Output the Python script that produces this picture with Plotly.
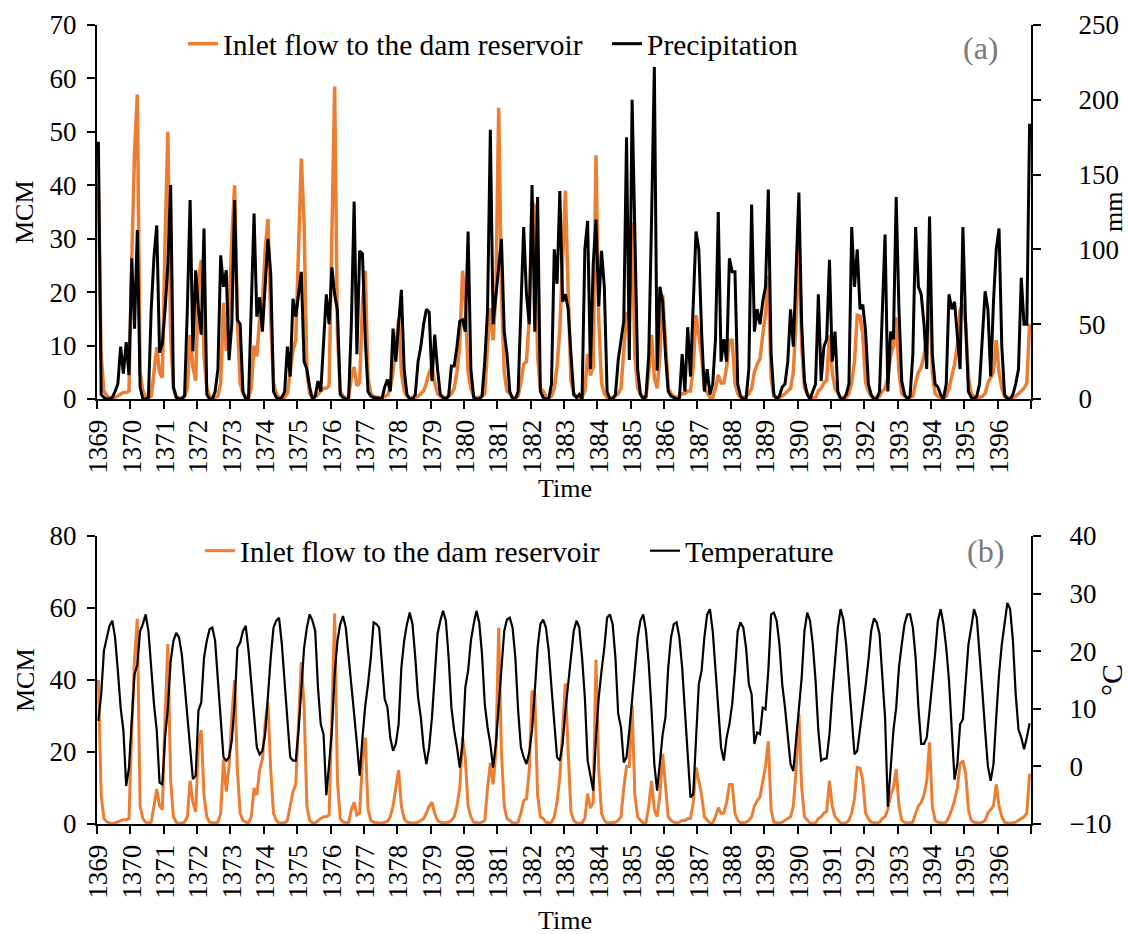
import plotly.graph_objects as go

# ---------------- data (monthly, Persian calendar years 1369-1396) ----------------
year_labels = [str(y) for y in range(1369, 1397)]

# Inlet flow to the dam reservoir (MCM), 12 values per year
inflow = [
    40, 8, 1.5, 0.6, 0.3, 0.1, 0.3, 0.6, 1.0, 1.2, 1.2, 1.5,        # 1369
    26, 46, 57, 5, 1.5, 0.5, 0.3, 0.5, 5, 9.7, 5, 4,                # 1370
    30, 50, 12, 2, 0.5, 0.2, 0.3, 0.5, 2, 12, 6, 3.4,               # 1371
    22, 26, 8, 2, 0.5, 0.3, 0.3, 0.5, 3, 18, 9, 16,                 # 1372
    30, 40, 15, 3, 1, 0.5, 0.3, 2, 10, 8, 15, 18,                   # 1373
    28, 33.7, 15, 3, 1, 0.3, 0.2, 0.3, 1, 5, 9, 11,                 # 1374
    30, 45, 33, 5, 1, 0.3, 0.3, 1, 1.5, 2, 2, 2.5,                  # 1375
    30, 58.5, 12, 1.5, 0.5, 0.3, 0.3, 4, 6, 2.5, 3, 18,             # 1376
    24, 4, 1, 0.5, 0.3, 0.3, 0.3, 0.5, 0.7, 2, 5, 10,               # 1377
    15, 5, 1.5, 0.5, 0.3, 0.3, 0.3, 0.5, 1, 1.5, 3, 5,              # 1378
    6, 3, 1, 0.5, 0.3, 0.3, 0.5, 1, 2, 5, 10, 24,                   # 1379
    18, 5, 2, 0.5, 0.3, 0.3, 0.5, 1, 10, 17, 11, 20,                # 1380
    54.5, 20, 5, 1.5, 1, 0.3, 0.3, 0.5, 3, 6.5, 7, 15,              # 1381
    37, 36, 8, 2, 1.5, 0.5, 0.3, 0.5, 2, 6, 13, 25,                 # 1382
    39, 20, 3.4, 1, 0.3, 0.2, 0.3, 1.5, 8.4, 4.4, 6, 45.6,          # 1383
    15, 3, 1, 0.3, 0.3, 0.3, 0.5, 1, 2, 10, 16, 16,                 # 1384
    33, 8, 2, 1, 0.3, 0.3, 5, 12, 4, 2, 8, 19.5,                    # 1385
    10, 2, 1, 0.5, 0.3, 0.5, 1, 1, 1.5, 1.5, 6, 15.7,               # 1386
    12, 8, 2, 1, 0.3, 0.3, 2, 4.5, 3, 3, 6, 11,                     # 1387
    11, 3, 1, 0.3, 0.3, 0.5, 1, 2, 5, 6.5, 7.5, 12,                 # 1388
    16, 23, 4, 0.5, 0.3, 0.3, 0.5, 1, 1.5, 2, 5, 15,                # 1389
    30.6, 10, 2, 1.2, 0.3, 0.2, 0.3, 1.5, 2, 3, 3.5, 12,            # 1390
    5, 2, 1, 0.3, 0.2, 0.3, 1, 3, 7, 15.7, 15.5, 12,                # 1391
    3, 1.5, 0.5, 0.3, 0.3, 0.5, 1.5, 2, 4, 8, 10, 15.3,             # 1392
    5, 1, 0.5, 0.3, 0.3, 0.5, 3, 5, 6, 8, 12, 22.7,                 # 1393
    5, 1, 0.5, 0.3, 0.3, 0.5, 2, 4, 6.5, 10, 16.7, 17.6,            # 1394
    14, 4, 1, 0.5, 0.3, 0.3, 0.5, 1, 3, 4, 5, 11,                   # 1395
    5, 2, 0.5, 0.3, 0.2, 0.3, 0.5, 1, 1.5, 2, 3, 14,                # 1396
]

# Precipitation (mm)
precipitation = [
    172, 3, 1, 0, 0, 1, 5, 10, 35, 17, 38, 16,
    94, 47, 113, 8, 0, 0, 1, 60, 95, 116, 31, 37,
    60, 90, 143, 8, 1, 0, 0, 2, 60, 133, 32, 86,
    60, 43, 114, 3, 0, 0, 5, 20, 96, 75, 86, 26,
    50, 133, 53, 50, 5, 0, 0, 60, 124, 55, 68, 45,
    80, 107, 84, 5, 1, 0, 1, 5, 35, 15, 67, 55,
    70, 85, 25, 20, 8, 0, 2, 12, 5, 40, 70, 50,
    88, 70, 59, 3, 1, 0, 0, 50, 132, 30, 99, 97,
    40, 5, 2, 1, 1, 0.5, 0, 8, 13, 5, 47, 25,
    50, 73, 20, 3, 0, 0, 3, 25, 35, 50, 60, 58,
    12, 43, 20, 3, 1, 0, 2, 22, 22, 35, 52, 53,
    45, 112, 20, 1, 0, 0, 2, 25, 60, 180, 50, 70,
    90, 107, 45, 30, 5, 0, 0, 5, 60, 115, 70, 50,
    143, 45, 135, 5, 1, 0, 0, 10, 100, 77, 139, 65,
    70, 60, 30, 3, 1, 3, 0, 100, 119, 20, 90, 120,
    62, 99, 75, 5, 0, 0, 3, 26, 39, 52, 175, 26,
    200, 97, 20, 3, 0, 2, 30, 120, 222, 19, 75, 65,
    30, 5, 2, 1, 0, 0, 30, 5, 48, 15, 70, 112,
    100, 45, 5, 20, 3, 10, 40, 125, 25, 40, 25, 94,
    85, 85, 10, 2, 0, 0, 20, 130, 45, 60, 50, 65,
    75, 140, 30, 3, 0, 2, 8, 10, 25, 60, 35, 90,
    138, 50, 12, 3, 0, 5, 10, 70, 12, 35, 40, 93,
    25, 45, 5, 0, 0, 3, 10, 115, 75, 100, 60, 63,
    45, 10, 3, 0, 0, 5, 60, 110, 5, 45, 40, 135,
    60, 12, 3, 0, 2, 30, 115, 75, 70, 50, 20, 122,
    30, 10, 8, 3, 0, 10, 70, 60, 65, 40, 20, 115,
    50, 5, 1, 0, 2, 10, 40, 72, 60, 15, 65, 100,
    114, 35, 3, 0, 0, 3, 10, 20, 81, 50, 50, 184,
]

# Temperature (°C)
temperature = [
    7.9, 12.5, 20.1, 22.4, 24.4, 25.3, 22.4, 16.6, 10.2, 6.2, -3.4, -0.2,
    8.5, 16.0, 17.7, 23.5, 24.7, 26.4, 23.5, 16.6, 10.8, 6.2, -2.8, -3.1,
    5.0, 10.2, 18.3, 21.8, 23.2, 22.4, 19.5, 14.3, 9.1, 3.3, -2.2, -1.6,
    9.7, 11.1, 18.9, 21.8, 23.8, 24.1, 21.8, 14.9, 8.5, 1.6, 1.0, 1.6,
    4.5, 10.8, 20.6, 21.5, 23.5, 24.4, 20.1, 14.9, 9.7, 3.3, 2.1, 2.7,
    5.6, 12.5, 18.9, 24.1, 25.3, 25.8, 21.2, 14.6, 7.9, 1.6, 1.0, 1.0,
    6.2, 13.7, 20.6, 24.1, 26.4, 25.3, 23.5, 13.7, 7.3, 5.6, -5.0, 0.4,
    6.2, 16.0, 21.8, 24.7, 26.1, 24.1, 19.5, 14.9, 9.1, 3.9, -1.6, 5.0,
    10.5, 14.3, 18.9, 25.0, 24.7, 24.1, 17.7, 11.7, 10.2, 5.0, 2.7, 3.9,
    7.3, 17.2, 21.8, 24.7, 26.7, 24.7, 18.9, 12.0, 8.5, 3.3, 0.4, 3.3,
    8.5, 16.6, 23.0, 25.3, 27.0, 25.3, 18.9, 10.2, 6.2, 3.3, -0.2, 3.9,
    13.7, 16.6, 21.8, 24.7, 27.0, 25.0, 19.5, 10.8, 6.8, 3.9, -0.2, 3.9,
    10.8, 17.7, 23.5, 25.5, 25.8, 24.1, 18.9, 9.7, 3.3, 1.6, 0.4, 2.4,
    6.2, 13.1, 20.6, 24.7, 25.5, 24.1, 20.1, 13.7, 7.3, 1.6, 1.0, 3.9,
    9.7, 14.3, 20.1, 23.5, 25.3, 24.1, 18.9, 12.0, 1.0, -1.3, -4.2, 5.0,
    12.0, 16.6, 20.6, 25.8, 26.4, 24.7, 18.9, 9.1, 6.8, 0.7, 1.6, 6.2,
    11.4, 17.7, 22.4, 25.3, 26.4, 23.5, 17.7, 9.7, 0.4, -4.2, 1.0, 5.6,
    8.5, 17.2, 22.4, 24.7, 25.0, 22.4, 17.2, 9.7, 3.3, -5.4, -4.8, 6.2,
    14.3, 16.6, 22.4, 26.4, 27.3, 23.5, 16.6, 9.7, 3.3, 1.0, 5.0, 7.3,
    10.8, 16.6, 23.5, 25.0, 24.1, 20.6, 14.3, 12.5, 3.9, 5.9, 5.6, 10.2,
    9.9, 16.6, 26.4, 26.7, 25.3, 21.2, 14.3, 10.2, 5.0, 0.4, -0.8, 5.0,
    10.8, 15.4, 23.5, 26.7, 25.3, 21.2, 14.9, 6.2, 1.0, 1.3, 1.4, 5.6,
    12.5, 18.9, 24.1, 27.3, 25.5, 21.2, 14.9, 8.5, 2.1, 2.7, 6.2, 9.7,
    14.0, 18.3, 23.5, 25.7, 25.0, 23.0, 15.7, 8.5, -7.0, 0.4, 6.2, 10.2,
    17.2, 21.2, 24.7, 26.4, 26.4, 24.1, 18.9, 10.2, 3.9, 3.9, 5.0, 9.7,
    14.3, 19.5, 25.3, 27.3, 24.7, 20.6, 14.9, 7.3, -2.3, 0.4, 7.3, 8.2,
    14.3, 21.2, 24.1, 27.3, 25.8, 20.1, 13.1, 6.2, 0.0, -2.5, 0.4, 8.5,
    16.0, 21.2, 25.3, 28.4, 27.3, 21.8, 12.5, 6.4, 5.0, 3.0, 5.0, 7.5,
]

months = list(range(len(inflow)))  # month index (category position)

# ---------------- styling ----------------
ORANGE = "#ED7D31"
FONT = "Liberation Serif, Times New Roman, serif"
W, H = 1128, 934
X0, X1 = 97 / W, 1031 / W
TOP = (1 - 399 / H, 1 - 25 / H)
BOT = (1 - 824 / H, 1 - 536 / H)
TICKFONT = dict(size=27, color="black")

fig = go.Figure()
fig.add_trace(go.Scatter(x=months, y=inflow, mode="lines", name="Inlet flow to the dam reservoir",
                         line=dict(color=ORANGE, width=3.5), xaxis="x", yaxis="y", legend="legend"))
fig.add_trace(go.Scatter(x=months, y=precipitation, mode="lines", name="Precipitation",
                         line=dict(color="black", width=3), xaxis="x", yaxis="y2", legend="legend"))
fig.add_trace(go.Scatter(x=months, y=inflow, mode="lines", name="Inlet flow to the dam reservoir",
                         line=dict(color=ORANGE, width=3), xaxis="x2", yaxis="y3", legend="legend2"))
fig.add_trace(go.Scatter(x=months, y=temperature, mode="lines", name="Temperature",
                         line=dict(color="black", width=2.2), xaxis="x2", yaxis="y4", legend="legend2"))

n = len(inflow)
major_vals = list(range(0, n, 12))
minor_vals = [k * 12 - 0.5 for k in range(n // 12 + 1)]

def xaxis_cfg(anchor):
    return dict(
        domain=[X0, X1], anchor=anchor, range=[-0.5, n - 0.5], automargin=False,
        tickmode="array", tickvals=major_vals, ticktext=year_labels,
        tickangle=-90, ticks="", showline=True, linecolor="black", linewidth=2,
        showgrid=False, zeroline=False, tickfont=TICKFONT,
        ticklabelstandoff=8,
        minor=dict(tickmode="array", tickvals=minor_vals, ticks="outside",
                   ticklen=8, tickwidth=2, tickcolor="black", showgrid=False),
    )

def yaxis_cfg(domain, rng, dtick, side="left", overlay=None, anchor="x", standoff=5):
    d = dict(range=rng, dtick=dtick, tick0=rng[0], side=side, anchor=anchor, automargin=False,
             ticks="outside", ticklen=8, tickwidth=2, tickcolor="black",
             showline=True, linecolor="black", linewidth=2, showgrid=False,
             zeroline=False, tickfont=TICKFONT, ticklabelstandoff=standoff)
    if overlay:
        d["overlaying"] = overlay
    else:
        d["domain"] = list(domain)
    return d

fig.update_layout(
    width=W, height=H, autosize=False,
    margin=dict(l=0, r=0, t=0, b=0, pad=0, autoexpand=False),
    paper_bgcolor="white", plot_bgcolor="white",
    font=dict(family=FONT, color="black", size=26),
    xaxis=xaxis_cfg("y"),
    xaxis2=xaxis_cfg("y3"),
    yaxis=yaxis_cfg(TOP, [0, 70], 10),
    yaxis2=yaxis_cfg(TOP, [0, 250], 50, side="right", overlay="y", anchor="x", standoff=32),
    yaxis3=yaxis_cfg(BOT, [0, 80], 20, anchor="x2"),
    yaxis4=yaxis_cfg(BOT, [-10, 40], 10, side="right", overlay="y3", anchor="x2", standoff=23),
    legend=dict(orientation="h", x=183 / W, y=1 - 44 / H, xanchor="left", yanchor="middle",
                font=dict(size=29.5, color="black"), bgcolor="rgba(0,0,0,0)", itemwidth=30,
                tracegroupgap=0, entrywidth=379, entrywidthmode="pixels"),
    legend2=dict(orientation="h", x=200 / W, y=1 - 551 / H, xanchor="left", yanchor="middle",
                 font=dict(size=29.5, color="black"), bgcolor="rgba(0,0,0,0)", itemwidth=30,
                 tracegroupgap=0, entrywidth=400, entrywidthmode="pixels"),
    showlegend=True,
)

ann = [
    dict(text="MCM", x=25 / W, y=1 - 212 / H, textangle=-90, font=dict(size=26)),
    dict(text="mm", x=1114 / W, y=1 - 212 / H, textangle=-90, font=dict(size=26)),
    dict(text="Time", x=565 / W, y=1 - 489 / H, font=dict(size=26)),
    dict(text="MCM", x=25 / W, y=1 - 680 / H, textangle=-90, font=dict(size=26)),
    dict(text="°C", x=1111 / W, y=1 - 680 / H, textangle=-90, font=dict(size=30)),
    dict(text="Time", x=565 / W, y=1 - 920 / H, font=dict(size=26)),
    dict(text="(a)", x=981 / W, y=1 - 48 / H, font=dict(size=32, color="#7a7a7a")),
    dict(text="(b)", x=985 / W, y=1 - 551 / H, font=dict(size=32, color="#7a7a7a")),
]
for a in ann:
    a.update(xref="paper", yref="paper", showarrow=False, xanchor="center", yanchor="middle")
fig.update_layout(annotations=ann)

fig.write_html("out.html", config={"displayModeBar": False},
               post_script="document.body.style.margin='0px';document.body.style.overflow='hidden';")
